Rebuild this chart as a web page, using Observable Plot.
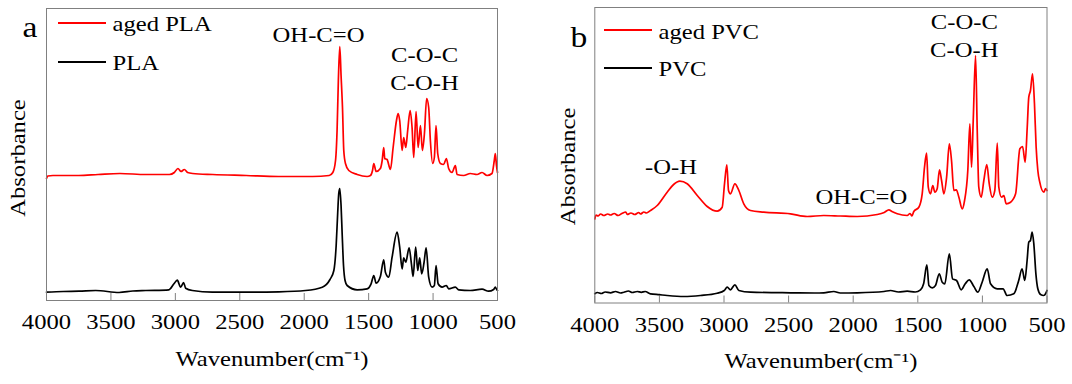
<!DOCTYPE html>
<html>
<head>
<meta charset="utf-8">
<script src="https://cdn.jsdelivr.net/npm/d3@7"></script>
<script src="https://cdn.jsdelivr.net/npm/@observablehq/plot@0.6"></script>
<style>
html, body { margin: 0; padding: 0; background: #fff; }
#wrap { position: relative; width: 1072px; height: 384px; overflow: hidden; background: #fff; }
#wrap svg { position: absolute; top: 0; }
.sw { position: absolute; height: 2px; }
</style>
</head>
<body>
<div id="wrap"></div>
<script>
// ---------- data ----------
const xTicks = [4000, 3500, 3000, 2500, 2000, 1500, 1000, 500];
const xTitle = "Wavenumber(cm\u207B\u00B9)";
const yTitle = "Absorbance";

// Panel a: PLA
const agedPlaWn = [4000,3990,3950,3750,3600,3430,3230,3046,3008,2980,
  2956,2930,2905,2866,2710,2450,2200,1935,1806,1778,
  1757,1745,1735,1724,1714,1703,1693,1680,1654,1589,
  1512,1486,1470,1460,1442,1409,1395,1383,1375,1357,
  1331,1310,1284,1271,1259,1240,1228,1212,1197,1178,
  1163,1150,1132,1116,1098,1083,1067,1050,1034,1021,
  1003,990,977,964,943,918,897,879,853,827,
  814,763,711,659,620,581,543,525,517,508,
  500];
const agedPlaAbs = [1.22,1.245,1.25,1.25,1.26,1.27,1.26,1.26,1.28,1.32,
  1.29,1.31,1.28,1.27,1.26,1.25,1.24,1.24,1.25,1.28,
  1.40,1.70,2.20,2.54,2.25,1.93,1.50,1.37,1.30,1.26,
  1.24,1.25,1.30,1.37,1.29,1.32,1.40,1.53,1.42,1.41,
  1.31,1.53,1.80,1.87,1.80,1.50,1.63,1.53,1.70,1.90,
  1.73,1.43,1.89,1.53,1.75,1.50,1.67,2.02,1.93,1.60,
  1.37,1.43,1.75,1.47,1.37,1.36,1.42,1.32,1.28,1.35,
  1.26,1.25,1.27,1.26,1.28,1.25,1.27,1.40,1.47,1.35,
  1.28];
const plaWn = [4000,3870,3747,3618,3437,3330,3230,3050,3011,2985,
  2959,2936,2920,2868,2713,2455,2197,1990,1860,1800,
  1770,1752,1740,1732,1724,1714,1705,1695,1683,1667,
  1589,1512,1481,1460,1442,1409,1383,1370,1344,1318,
  1279,1259,1240,1228,1212,1186,1168,1155,1135,1119,
  1104,1088,1070,1054,1034,1008,990,977,961,930,
  897,879,827,801,711,620,569,530,517,508,
  500];
const plaAbs = [0.083,0.09,0.093,0.10,0.08,0.095,0.10,0.107,0.167,0.203,
  0.133,0.18,0.123,0.10,0.083,0.083,0.087,0.10,0.133,0.21,
  0.30,0.55,0.88,1.07,1.12,0.95,0.65,0.35,0.20,0.15,
  0.107,0.117,0.167,0.25,0.173,0.24,0.407,0.283,0.233,0.433,
  0.683,0.533,0.317,0.427,0.383,0.527,0.367,0.24,0.533,0.30,
  0.427,0.267,0.38,0.527,0.233,0.133,0.15,0.35,0.167,0.133,
  0.15,0.117,0.133,0.107,0.10,0.113,0.093,0.11,0.133,0.115,
  0.10];

// Panel b: PVC
const agedPvcWn = [4000,3990,3975,3955,3930,3900,3878,3850,3820,3790,
  3760,3749,3720,3690,3660,3646,3620,3600,3569,3517,
  3440,3390,3342,3285,3207,3130,3053,3014,2996,2978,
  2965,2950,2916,2885,2847,2795,2692,2485,2356,2228,
  2100,1969,1814,1760,1724,1700,1659,1582,1560,1545,
  1531,1492,1466,1448,1432,1419,1402,1384,1368,1350,
  1332,1316,1298,1277,1256,1239,1221,1202,1182,1156,
  1138,1113,1097,1084,1071,1053,1040,1028,1009,989,
  966,947,924,904,885,873,852,834,816,782,
  743,710,689,669,653,641,628,612,597,584,
  571,556,525,510,500];
const agedPvcAbs = [0.84,0.88,0.87,0.89,0.875,0.89,0.88,0.895,0.875,0.895,
  0.91,0.885,0.90,0.885,0.905,0.89,0.91,0.90,0.925,0.975,
  1.108,1.185,1.218,1.192,1.075,0.965,0.918,0.958,1.192,1.382,
  1.125,1.092,1.192,1.125,0.992,0.925,0.908,0.892,0.865,0.875,
  0.87,0.865,0.885,0.905,0.932,0.915,0.892,0.875,0.895,0.87,
  0.915,0.958,1.092,1.358,1.498,1.158,1.092,1.175,1.108,1.142,
  1.332,1.225,1.092,1.258,1.592,1.425,1.125,1.132,1.058,0.942,
  1.025,1.325,1.792,1.358,1.825,2.475,1.725,1.158,1.058,1.225,
  1.385,1.192,1.058,1.125,1.598,1.158,1.058,1.075,0.992,1.008,
  1.092,1.542,1.565,1.408,1.758,2.058,2.125,2.292,1.992,1.558,
  1.325,1.208,1.108,1.145,1.125];
const pvcWn = [4000,3980,3950,3920,3878,3840,3800,3775,3740,3710,
  3672,3640,3610,3569,3500,3440,3311,3182,3053,2998,
  2975,2950,2916,2885,2795,2485,2300,2228,2150,2100,
  1969,1762,1711,1650,1582,1520,1479,1455,1430,1414,
  1388,1363,1334,1311,1291,1256,1231,1200,1164,1133,
  1102,1066,1035,1002,963,937,886,840,809,757,
  719,693,672,654,641,628,615,602,586,571,
  550,525,510,500];
const pvcAbs = [0.092,0.105,0.095,0.11,0.102,0.115,0.10,0.108,0.12,0.105,
  0.115,0.107,0.115,0.092,0.083,0.075,0.065,0.075,0.098,0.125,
  0.158,0.132,0.182,0.125,0.108,0.102,0.10,0.102,0.115,0.10,
  0.102,0.115,0.125,0.11,0.118,0.11,0.132,0.192,0.382,0.175,
  0.152,0.175,0.292,0.208,0.192,0.492,0.242,0.225,0.132,0.192,
  0.232,0.165,0.108,0.208,0.342,0.192,0.142,0.142,0.075,0.092,
  0.225,0.342,0.225,0.425,0.608,0.625,0.708,0.592,0.292,0.142,
  0.085,0.075,0.095,0.125];

// Peak annotations (label, wavenumber, absorbance at text baseline)
const plaNotes = ["OH-C=O", "C-O-C", "C-O-H"];
const plaNoteWn = [1889, 1066, 1066];
const plaNoteAbs = [2.583, 2.383, 2.107];
const pvcNotes = ["C-O-C", "C-O-H", "-O-H", "OH-C=O"];
const pvcNoteWn = [1140, 1140, 3410, 1937];
const pvcNoteAbs = [2.742, 2.465, 1.292, 0.992];

const plaLegend = ["aged PLA", "PLA"];
const pvcLegend = ["aged PVC", "PVC"];
const seriesColors = ["#ff0000", "#000000"];

// ---------- drawing ----------
const FONT = '"Liberation Serif", "Times New Roman", Times, serif';
const STRETCH = 1.12;
const H = 384;

function rows(wn, ab) {
  const n = Math.min(wn.length, ab.length);
  return d3.range(n).map(i => ({w: wn[i], a: ab[i]}));
}
function notes(labels, wn, ab) {
  return labels.map((t, i) => ({t, w: wn[i], a: ab[i]}));
}
function stretchText(svg, s) {
  svg.querySelectorAll("text").forEach(t => {
    let tr = t.getAttribute("transform") || "";
    const x = t.getAttribute("x");
    if (x !== null && /^-?[\d.]+$/.test(x)) { tr += ` translate(${x},0)`; t.removeAttribute("x"); }
    t.setAttribute("transform", `${tr} scale(${s},1)`.trim());
  });
}

function panel(cfg) {
  const innerH = H - cfg.mT - cfg.mB;
  const tickLen = 7 * cfg.yMax / innerH;
  const svg = Plot.plot({
    width: cfg.width, height: H,
    marginLeft: cfg.mL, marginRight: cfg.mR, marginTop: cfg.mT, marginBottom: cfg.mB,
    style: {fontFamily: FONT, fontSize: "22px", color: "#000", background: "transparent", overflow: "visible"},
    x: {domain: [4000, 500], ticks: xTicks, tickFormat: d => String(d), tickSize: 0, tickPadding: 13, label: null},
    y: {domain: [0, cfg.yMax], axis: null},
    marks: [
      Plot.ruleX(xTicks, {x: d => d, y1: 0, y2: tickLen, stroke: "#808080", strokeWidth: 1}),
      Plot.line(cfg.aged, {x: "w", y: "a", stroke: seriesColors[0], strokeWidth: 1.7, curve: "monotone-x"}),
      Plot.line(cfg.fresh, {x: "w", y: "a", stroke: seriesColors[1], strokeWidth: 1.7, curve: "monotone-x"}),
      Plot.frame({stroke: "#808080", strokeWidth: 1}),
      Plot.text(cfg.notes, {x: "w", y: "a", text: "t", textAnchor: "middle", lineAnchor: "bottom", fill: "#000"}),
      Plot.text([xTitle], {text: d => d, frameAnchor: "bottom", lineAnchor: "bottom", dy: 65, fill: "#000"}),
      Plot.text([yTitle], {text: d => d, frameAnchor: "left", rotate: -90, textAnchor: "middle", lineAnchor: "bottom", dx: cfg.yDx, dy: cfg.yDy, fill: "#000"}),
      Plot.text([cfg.letter], {text: d => d, frameAnchor: "top-left", textAnchor: "start", lineAnchor: "bottom", dx: cfg.letterDx, dy: cfg.letterDy, fontSize: 30, fill: "#000"}),
      Plot.text([cfg.legend[0]], {text: d => d, frameAnchor: "top-left", textAnchor: "start", lineAnchor: "bottom", dx: cfg.legDx, dy: cfg.legDy[0], fill: "#000"}),
      Plot.text([cfg.legend[1]], {text: d => d, frameAnchor: "top-left", textAnchor: "start", lineAnchor: "bottom", dx: cfg.legDx, dy: cfg.legDy[1], fill: "#000"})
    ]
  });
  stretchText(svg, STRETCH);
  svg.style.left = cfg.left + "px";
  return svg;
}

const wrap = document.getElementById("wrap");
wrap.appendChild(panel({
  left: 0, width: 536, mL: 46, mR: 39, mT: 8, mB: 84, yMax: 2.92,
  aged: rows(agedPlaWn, agedPlaAbs), fresh: rows(plaWn, plaAbs),
  notes: notes(plaNotes, plaNoteWn, plaNoteAbs),
  yDx: -22, yDy: 3.5, letter: "a", letterDx: -24, letterDy: 28.7,
  legend: plaLegend, legDx: 66, legDy: [22.7, 61.3]
}));
wrap.appendChild(panel({
  left: 536, width: 536, mL: 58.3, mR: 25.5, mT: 7, mB: 81.5, yMax: 2.955,
  aged: rows(agedPvcWn, agedPvcAbs), fresh: rows(pvcWn, pvcAbs),
  notes: notes(pvcNotes, pvcNoteWn, pvcNoteAbs),
  yDx: -20.3, yDy: 11.2, letter: "b", letterDx: -24.3, letterDy: 39.7,
  legend: pvcLegend, legDx: 63.7, legDy: [31.3, 68]
}));

// legend swatches
const swatches = [
  {left: 58, top: 21.7, color: seriesColors[0]},
  {left: 58, top: 60.7, color: seriesColors[1]},
  {left: 604, top: 29, color: seriesColors[0]},
  {left: 604, top: 66.7, color: seriesColors[1]}
];
swatches.forEach(s => {
  const d = document.createElement("div");
  d.className = "sw";
  d.style.left = s.left + "px";
  d.style.top = s.top + "px";
  d.style.width = "48px";
  d.style.background = s.color;
  wrap.appendChild(d);
});
</script>
</body>
</html>
